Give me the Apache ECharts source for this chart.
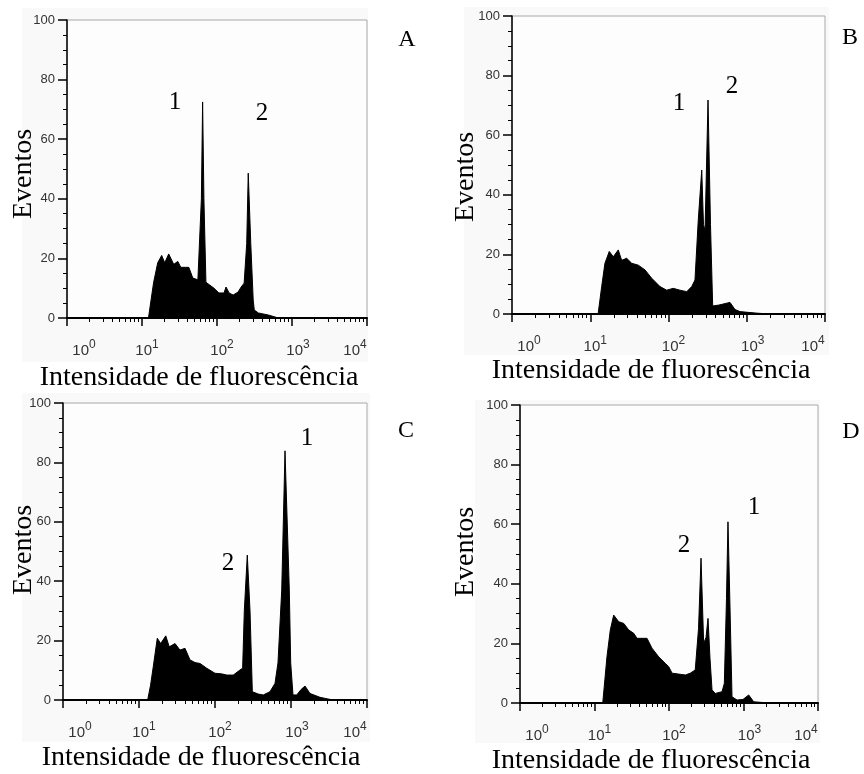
<!DOCTYPE html>
<html>
<head>
<meta charset="utf-8">
<style>
  html, body { margin: 0; padding: 0; background: #fff; }
  #chart { width: 864px; height: 774px; }
</style>
<script src="https://cdn.jsdelivr.net/npm/echarts@6.0.0/dist/echarts.min.js"></script>
</head>
<body>
<div id="chart"></div>
<script>
// fluorescence intensity (channel value, log axis) and event counts per panel
const intensityA = [12.2, 13.2, 14.3, 16.2, 18.3, 20.1, 22.7, 26.5, 30.0, 32.9, 38.4, 42.1, 47.6, 55.6, 57.3, 61.9, 64.3, 66.9, 71.2, 75.7, 91.2, 106, 124, 132, 145, 164, 191, 210, 230, 249, 261, 282, 304, 314, 355, 484, 659];
const eventsA = [0, 6, 12, 18.5, 21, 18.5, 21.5, 18, 19, 17, 17, 17, 13.4, 12.8, 12.8, 40, 72.5, 40, 12, 11.7, 10, 8.4, 8.4, 10.4, 8.4, 7.7, 8.7, 10.4, 11.7, 25, 48.6, 25, 6, 2.7, 1.7, 1, 0];

const intensityB = [12.6, 14.0, 15.4, 17.5, 19.7, 22.8, 25.2, 29.2, 33.9, 41.1, 50.1, 61.0, 77.9, 94.8, 115, 140, 171, 198, 218, 240, 266, 280, 293, 320, 344, 367, 442, 611, 708, 820, 1313, 1982];
const eventsB = [0, 9.2, 17, 21, 19.2, 21.5, 18, 18.7, 17, 16.4, 14.8, 12, 9.2, 8, 8.6, 8, 7.5, 9.2, 11.4, 31.5, 48.3, 30, 28, 71.8, 30, 2.7, 3, 3.9, 1.5, 0.8, 0.3, 0];

const intensityC = [13.0, 14.2, 15.4, 17.4, 19.3, 22.5, 25.0, 29.8, 34.6, 40.3, 46.9, 54.6, 63.5, 77.8, 100, 122, 143, 174, 213, 231, 243, 266, 289, 310, 371, 432, 529, 616, 674, 755, 834, 950, 991, 1062, 1189, 1354, 1529, 1778, 2407, 3261, 3792];
const eventsC = [0, 5, 11.2, 20.8, 19, 21.6, 17.9, 19, 16.8, 17.4, 13.5, 12.6, 12.3, 10.7, 9, 8.8, 8.4, 8.4, 10.1, 10.7, 30, 48.8, 30, 2.8, 2, 1.7, 2.8, 5.6, 12.5, 37, 83.9, 37, 12.5, 1.7, 1.7, 3.5, 4.7, 2.2, 0.9, 0.2, 0];

const intensityD = [12.9, 13.8, 14.7, 16.3, 18.1, 21.1, 24.7, 28.8, 33.6, 37.2, 43.4, 50.7, 59.1, 72.7, 89.2, 99.1, 110, 135, 166, 193, 225, 249, 269, 292, 314, 334, 355, 378, 418, 515, 553, 591, 619, 655, 701, 818, 985, 1174, 1371, 1962, 2648];
const eventsD = [0, 8, 15.5, 24.5, 29.5, 27.3, 26.7, 24.5, 23.4, 21.7, 21.7, 21.7, 18.4, 15.5, 13.3, 12.2, 10, 9.7, 9.4, 10, 11.1, 25, 48.6, 20, 22, 28.4, 15, 4.4, 3.2, 3.8, 6.6, 35, 60.8, 35, 2.1, 1, 1.2, 2.7, 0.4, 0.1, 0];

// axis ticks
const decadeTicks = [1, 10, 100, 1000, 10000];
const minorDecadeTicks = [1, 10, 100, 1000].flatMap(d => [2, 3, 4, 5, 6, 7, 8, 9].map(k => k * d));
const eventTicks = [0, 20, 40, 60, 80, 100];
const eventMinorTicks = [5, 10, 15, 25, 30, 35, 45, 50, 55, 65, 70, 75, 85, 90, 95];

const panelLetters = ['A', 'B', 'C', 'D'];
const xTitle = 'Intensidade de fluorescência';
const yTitle = 'Eventos';

const chart = echarts.init(document.getElementById('chart'));

// grid boxes per panel (pixels) + the light panel backdrop
const panels = [
  { box: { left: 67, top: 20, width: 300, height: 298 }, back: [22, 8, 346, 354], x: intensityA, y: eventsA },
  { box: { left: 512, top: 16, width: 313, height: 298 }, back: [464, 7, 365, 348], x: intensityB, y: eventsB },
  { box: { left: 63, top: 403, width: 304, height: 297 }, back: [22, 393, 348, 349], x: intensityC, y: eventsC },
  { box: { left: 520, top: 405, width: 298, height: 298 }, back: [475, 400, 345, 343], x: intensityD, y: eventsD },
];

// labels sit a bit off their ticks in the original
const labelShift = [17, 5, 5, 6, -12];
const rich = {};
labelShift.forEach((s, e) => {
  rich['b' + e] = {
    fontFamily: 'Liberation Sans', fontSize: 15, color: '#333', lineHeight: 24,
    padding: [0, 0, 0, s > 0 ? 2 * s : 0],
  };
  rich['s' + e] = {
    fontFamily: 'Liberation Sans', fontSize: 12, color: '#333', lineHeight: 12,
    padding: [0, s < 0 ? -2 * s : 0, 12, 0],
  };
});

const grids = [];
const xAxes = [];
const yAxes = [];
const series = [];
const graphics = [];

panels.forEach((p, i) => {
  grids.push({
    ...p.box,
    show: true,
    backgroundColor: '#fdfdfd',
    borderColor: '#a8a8a8',
    borderWidth: 1,
  });

  graphics.push({
    type: 'rect', z: -10, silent: true,
    shape: { x: p.back[0], y: p.back[1], width: p.back[2], height: p.back[3] },
    style: { fill: '#f9f9f9' },
  });

  // main x axis: decades
  xAxes.push({
    type: 'log', logBase: 10, gridIndex: i, min: 1, max: 10000, position: 'bottom',
    axisLine: { onZero: false, lineStyle: { color: '#000', width: 2 } },
    axisTick: { customValues: decadeTicks, length: 8, lineStyle: { color: '#000', width: 1.5 } },
    axisLabel: {
      customValues: decadeTicks,
      margin: 21,
      formatter: v => {
        const e = Math.round(Math.log10(v));
        return '{b' + e + '|10}{s' + e + '|' + e + '}';
      },
      rich: rich,
    },
    splitLine: { show: false },
  });
  // minor x ticks
  xAxes.push({
    type: 'log', logBase: 10, gridIndex: i, min: 1, max: 10000, position: 'bottom',
    axisLine: { show: false, onZero: false },
    axisTick: { customValues: minorDecadeTicks, length: 4, lineStyle: { color: '#000', width: 1 } },
    axisLabel: { show: false },
    splitLine: { show: false },
  });

  yAxes.push({
    type: 'value', gridIndex: i, min: 0, max: 100, interval: 20, position: 'left',
    axisLine: { show: true, onZero: false, lineStyle: { color: '#000', width: 1.5 } },
    axisTick: { show: true, length: 9, lineStyle: { color: '#000', width: 1.5 } },
    axisLabel: {
      customValues: eventTicks,
      margin: 12, fontFamily: 'Liberation Sans', fontSize: 13, color: '#333',
      padding: [7, 0, 0, 0],
    },
    splitLine: { show: false },
  });
  yAxes.push({
    type: 'value', gridIndex: i, min: 0, max: 100, position: 'left',
    axisLine: { show: false, onZero: false },
    axisTick: { show: true, customValues: eventMinorTicks, length: 4, lineStyle: { color: '#000', width: 1 } },
    axisLabel: { show: false },
    splitLine: { show: false },
  });

  series.push({
    type: 'line',
    xAxisIndex: 2 * i,
    yAxisIndex: 2 * i,
    data: p.x.map((v, k) => [v, p.y[k]]),
    symbol: 'none',
    lineStyle: { color: '#000', width: 1 },
    areaStyle: { color: '#000', opacity: 1 },
    silent: true,
    animation: false,
  });
});

function txt(x, y, text, size, rot) {
  return {
    type: 'text', x: x, y: y, rotation: rot || 0, z: 50,
    style: {
      text: text, fill: '#000',
      font: size + 'px "Liberation Serif"',
      align: 'center', verticalAlign: 'middle',
      textAlign: 'center', textVerticalAlign: 'middle',
    },
  };
}

graphics.push(
  // panel letters
  txt(407, 40, panelLetters[0], 24), txt(850, 38, panelLetters[1], 24),
  txt(406, 431, panelLetters[2], 24), txt(851, 432, panelLetters[3], 24),
  // peak numbers
  txt(175, 102, '1', 25), txt(262, 113, '2', 25),
  txt(679, 103, '1', 25), txt(732, 86, '2', 25),
  txt(307, 438, '1', 25), txt(228, 563, '2', 25),
  txt(754, 507, '1', 25), txt(684, 545, '2', 25),
  // axis titles
  txt(199, 378, xTitle, 28), txt(651, 371, xTitle, 28),
  txt(201, 758, xTitle, 28), txt(651, 761, xTitle, 28),
  txt(24, 174, yTitle, 28, Math.PI / 2), txt(466, 177, yTitle, 28, Math.PI / 2),
  txt(24, 550, yTitle, 28, Math.PI / 2), txt(466, 552, yTitle, 28, Math.PI / 2)
);

chart.setOption({
  animation: false,
  backgroundColor: '#fff',
  grid: grids,
  xAxis: xAxes,
  yAxis: yAxes,
  series: series,
  graphic: { elements: graphics },
});
</script>
</body>
</html>
